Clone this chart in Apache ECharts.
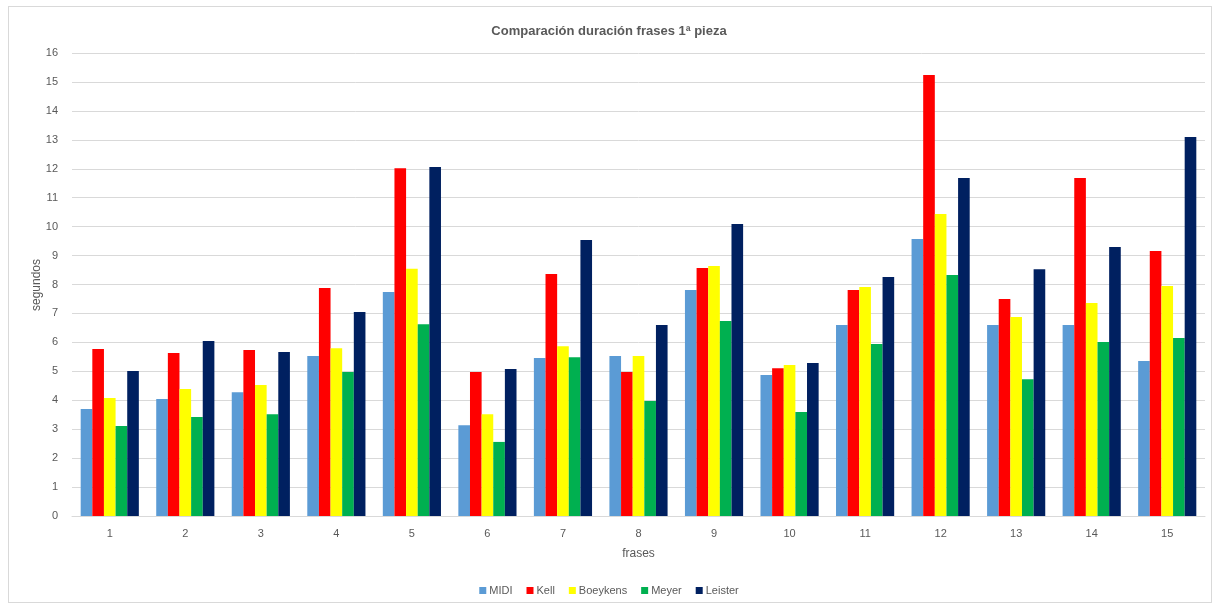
<!DOCTYPE html>
<html>
<head>
<meta charset="utf-8">
<script src="https://cdn.jsdelivr.net/npm/echarts@6/dist/echarts.min.js"></script>
<style>
  html, body { margin: 0; padding: 0; background: #ffffff; }
  #frame { position: absolute; left: 8px; top: 6px; width: 1204px; height: 597px; border: 1px solid #d9d9d9; box-sizing: border-box; }
  #chart { position: absolute; left: 0; top: 0; width: 1218px; height: 608px; }
</style>
</head>
<body>
<div id="frame"></div>
<div id="chart"></div>
<script>
// Phrase numbers along the x axis
const frases = ['1','2','3','4','5','6','7','8','9','10','11','12','13','14','15'];

// Phrase durations in seconds, one array per performance
const midi      = [3.70, 4.04, 4.28, 5.53, 7.74, 3.14, 5.46, 5.53, 7.81, 4.87, 6.60, 9.57, 6.60, 6.60, 5.36];
const kell      = [5.77, 5.63, 5.74, 7.88, 12.02, 4.98, 8.36, 4.98, 8.57, 5.11, 7.81, 15.24, 7.50, 11.68, 9.16];
const boeykens  = [4.08, 4.39, 4.53, 5.80, 8.54, 3.52, 5.87, 5.53, 8.64, 5.22, 7.91, 10.44, 6.88, 7.36, 7.95];
const meyer     = [3.11, 3.42, 3.52, 4.98, 6.63, 2.56, 5.49, 3.97, 6.74, 3.59, 5.94, 8.33, 4.73, 6.01, 6.15];
const leister   = [5.01, 6.05, 5.67, 7.05, 12.06, 5.08, 9.54, 6.60, 10.09, 5.29, 8.26, 11.68, 8.53, 9.30, 13.10];

const names        = ['MIDI', 'Kell', 'Boeykens', 'Meyer', 'Leister'];
const seriesValues = [midi, kell, boeykens, meyer, leister];
const colors       = ['#5B9BD5', '#FF0000', '#FFFF00', '#00B050', '#002060'];

const font = '"Liberation Sans", Arial, sans-serif';
const textGrey = '#595959';

const chart = echarts.init(document.getElementById('chart'), null, { renderer: 'canvas' });

chart.setOption({
  animation: false,
  color: colors,
  title: {
    text: 'Comparación duración frases 1ª pieza',
    left: 'center',
    top: 20,
    textStyle: { fontFamily: font, fontSize: 13, fontWeight: 'bold', color: textGrey }
  },
  legend: {
    data: names,
    bottom: 7,
    left: 'center',
    icon: 'rect',
    itemWidth: 7,
    itemHeight: 7,
    itemGap: 14,
    textStyle: { fontFamily: font, fontSize: 11, color: textGrey, padding: [0, 0, 0, -2] }
  },
  // vertical axis title, placed close to the tick labels
  graphic: [{
    type: 'text',
    x: 37,
    y: 285,
    rotation: Math.PI / 2,
    style: {
      text: 'segundos',
      fontFamily: font,
      fontSize: 12,
      fill: textGrey,
      align: 'center',
      verticalAlign: 'middle'
    }
  }],
  grid: { left: 72, right: 13, top: 53, bottom: 92, containLabel: false },
  xAxis: {
    type: 'category',
    data: frases,
    name: 'frases',
    nameLocation: 'middle',
    nameGap: 32,
    nameTextStyle: { fontFamily: font, fontSize: 12, color: textGrey },
    axisLine: { lineStyle: { color: '#d9d9d9' } },
    axisTick: { show: false },
    axisLabel: { fontFamily: font, fontSize: 11, color: textGrey, margin: 12 }
  },
  yAxis: {
    type: 'value',
    min: 0,
    max: 16,
    interval: 1,
    axisLine: { show: false },
    axisTick: { show: false },
    axisLabel: { fontFamily: font, fontSize: 11, color: textGrey, margin: 14 },
    splitLine: { lineStyle: { color: '#d9d9d9', width: 1 } }
  },
  series: names.map((n, i) => ({
    name: n,
    type: 'bar',
    data: seriesValues[i],
    barGap: '0%',
    barCategoryGap: '23%',
    itemStyle: { color: colors[i] }
  }))
});
</script>
</body>
</html>
